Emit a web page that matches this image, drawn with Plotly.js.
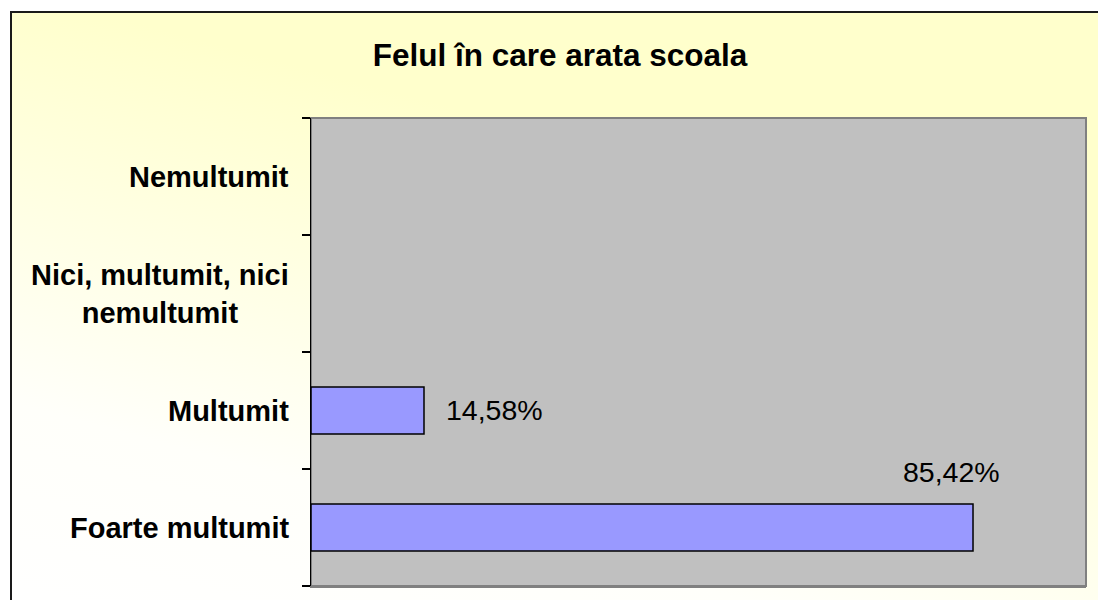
<!DOCTYPE html>
<html>
<head>
<meta charset="utf-8">
<script src="https://cdn.plot.ly/plotly-3.0.1.min.js"></script>
<style>
  html, body { margin: 0; padding: 0; background: #ffffff; }
  #wrap { position: relative; width: 1098px; height: 600px; overflow: hidden; background: #ffffff; }
  #bg { position: absolute; left: 10px; top: 11px; width: 1120px; height: 620px;
        border-left: 2px solid #1a1a1a; border-top: 2px solid #1a1a1a;
        background: linear-gradient(195deg, #FFFFCC 0%, #FFFFCC 30%, #FFFFFA 75%, #FFFFFF 100%); }
  #chart { position: absolute; left: 0; top: 0; width: 1098px; height: 600px; }
</style>
</head>
<body>
<div id="wrap">
  <div id="bg"></div>
  <div id="chart"></div>
</div>
<script>
// Data (bottom to top, as drawn)
const categories = ['Foarte multumit', 'Multumit', 'Nici, multumit, nici<br>nemultumit', 'Nemultumit'];
const values = [0.8542, 0.1458, 0, 0];
const chartTitle = 'Felul în care arata scoala';

function fmt(v) { return (v * 100).toFixed(2).replace('.', ',') + '%'; }

const FONT = 'Liberation Sans, Arial, sans-serif';

const trace = {
  type: 'bar',
  orientation: 'h',
  y: categories,
  x: values,
  width: 0.4,
  marker: { color: '#9999FF', line: { color: '#000000', width: values.map(v => v > 0 ? 1.5 : 0) } },
  hoverinfo: 'skip'
};

const annotations = [];
// value labels
values.forEach((v, i) => {
  if (v <= 0) return;
  const big = v > 0.5;
  annotations.push({
    x: v, y: categories[i], xref: 'x', yref: 'y',
    text: fmt(v), showarrow: false,
    xanchor: big ? 'right' : 'left', yanchor: 'middle',
    xshift: big ? 29 : 20, yshift: big ? 56 : 1,
    font: { family: FONT, size: 28.5, color: '#000000' }
  });
});
// category labels (centered lines, right-aligned block)
categories.forEach((c) => {
  annotations.push({
    x: 0, y: c, xref: 'paper', yref: 'y',
    text: '<b>' + c + '</b>', showarrow: false,
    xanchor: 'right', yanchor: 'middle', align: 'center',
    xshift: -20,
    font: { family: FONT, size: 29, color: '#000000' }
  });
});

const layout = {
  width: 1098, height: 600,
  margin: { l: 311, r: 12, t: 118, b: 14 },
  paper_bgcolor: 'rgba(0,0,0,0)',
  plot_bgcolor: '#C0C0C0',
  showlegend: false,
  font: { family: FONT, color: '#000000' },
  title: {
    text: '<b>' + chartTitle + '</b>',
    font: { family: FONT, size: 31.5, color: '#000000' },
    xref: 'container', yref: 'container', x: 560 / 1098, xanchor: 'center',
    y: 1 - 55 / 600, yanchor: 'middle'
  },
  xaxis: {
    range: [0, 1], showgrid: false, zeroline: false, showticklabels: false, ticks: '',
    showline: true, linecolor: '#808080', linewidth: 2, fixedrange: true
  },
  yaxis: {
    type: 'category', categoryorder: 'array', categoryarray: categories,
    range: [-0.5, 3.5], showgrid: false, zeroline: false,
    showline: true, linecolor: '#000000', linewidth: 1.5,
    ticks: 'outside', ticklen: 8, tickwidth: 1.2, tickcolor: '#000000', tickson: 'boundaries',
    showticklabels: false,
    fixedrange: true
  },
  shapes: [{
    type: 'rect', xref: 'paper', yref: 'paper', x0: 0, x1: 1, y0: 0, y1: 1,
    line: { color: '#808080', width: 2 }, layer: 'below'
  }],
  annotations: annotations,
  bargap: 0.6
};

Plotly.newPlot('chart', [trace], layout, { displayModeBar: false, staticPlot: true });
</script>
</body>
</html>
